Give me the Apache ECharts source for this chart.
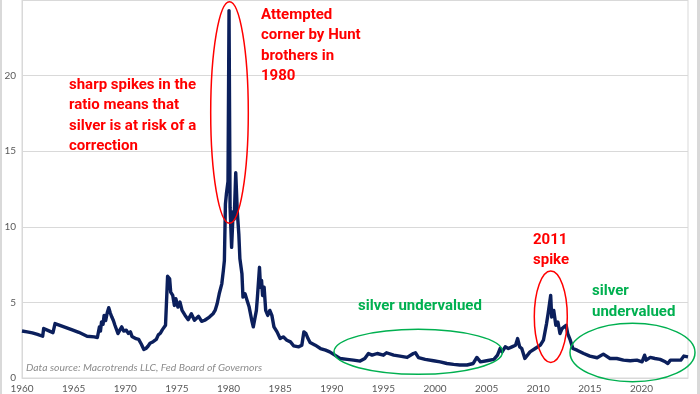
<!DOCTYPE html>
<html>
<head>
<meta charset="utf-8">
<script src="https://cdn.jsdelivr.net/npm/echarts@6/dist/echarts.min.js"></script>
<style>
html,body{margin:0;padding:0;background:#fff;}
#chart{width:700px;height:394px;}
</style>
</head>
<body>
<div id="chart"></div>
<script>
// Silver price ratio (year, value)
const years = [
1960.0,1960.5,1961.0,1961.5,1962.0,1962.1,1962.5,1963.0,1963.2,1963.6,1964.2,1964.8,1965.5,1966.3,1967.0,1967.3,
1967.5,1967.6,1967.7,1967.85,1967.95,1968.1,1968.25,1968.4,1968.55,1968.7,1968.85,1969.0,1969.15,1969.3,1969.5,1969.66,
1969.85,1970.1,1970.3,1970.5,1970.65,1970.8,1971.05,1971.3,1971.55,1971.8,1972.0,1972.2,1972.4,1972.7,1973.0,1973.2,
1973.4,1973.6,1973.9,1974.1,1974.3,1974.4,1974.6,1974.76,1974.9,1975.1,1975.3,1975.5,1975.8,1976.1,1976.4,1976.7,
1977.1,1977.4,1977.7,1978.15,1978.5,1978.7,1978.9,1979.1,1979.35,1979.5,1979.6,1979.7,1979.8,1979.95,1980.05,1980.15,
1980.3,1980.45,1980.55,1980.7,1980.85,1981.0,1981.1,1981.3,1981.4,1981.6,1981.8,1982.0,1982.25,1982.4,1982.7,1982.8,
1983.0,1983.1,1983.2,1983.3,1983.45,1983.6,1983.8,1984.0,1984.2,1984.4,1984.7,1985.0,1985.3,1985.65,1986.0,1986.3,
1986.8,1987.1,1987.3,1987.5,1987.7,1987.9,1988.4,1988.9,1989.4,1989.8,1990.3,1990.8,1991.5,1992.1,1992.75,1993.2,
1993.55,1993.9,1994.4,1995.0,1995.3,1996.0,1996.6,1997.3,1997.9,1998.1,1998.4,1999.05,1999.85,2000.5,2001.15,2001.8,
2002.4,2003.1,2003.7,2004.05,2004.4,2005.0,2005.7,2006.05,2006.3,2006.5,2006.8,2007.1,2007.45,2007.8,2008.0,2008.2,
2008.4,2008.7,2009.2,2009.7,2010.2,2010.5,2010.8,2010.95,2011.2,2011.3,2011.5,2011.7,2011.9,2012.1,2012.3,2012.5,
2012.7,2012.85,2013.1,2013.35,2013.75,2014.4,2015.0,2015.7,2016.3,2016.95,2017.6,2018.25,2018.9,2019.55,2020.05,2020.3,
2020.45,2020.85,2021.3,2021.8,2022.3,2022.55,2022.8,2023.3,2023.8,2024.1,2024.5
];
const ratio = [
3.11,3.05,2.98,2.88,2.76,3.27,3.15,3.00,3.60,3.50,3.35,3.20,3.02,2.76,2.72,2.68,
3.38,3.10,3.70,3.55,4.14,3.80,4.30,4.65,4.30,4.03,3.80,3.49,3.55,2.94,3.20,3.38,
3.10,3.16,2.95,3.05,2.75,2.83,2.60,2.55,2.25,1.89,1.95,2.10,2.30,2.40,2.55,2.85,
2.96,3.20,3.49,6.73,6.56,5.68,5.46,4.80,5.24,4.69,5.02,4.47,4.14,3.86,4.25,3.82,
4.08,3.75,3.82,4.03,4.25,4.47,4.91,5.57,6.23,7.10,7.76,11.5,12.2,13.0,24.3,11.3,
8.64,11.0,10.5,13.57,11.0,9.50,7.90,6.90,5.35,5.57,5.13,4.69,3.82,3.38,4.47,5.35,
7.32,6.00,6.45,5.46,6.00,4.47,4.14,4.47,4.14,3.38,3.05,2.61,2.72,2.50,2.39,2.13,
2.06,2.17,3.05,2.94,2.61,2.35,2.17,1.95,1.84,1.73,1.51,1.29,1.23,1.18,1.12,1.29,
1.62,1.51,1.62,1.51,1.67,1.51,1.45,1.36,1.62,1.67,1.35,1.23,1.14,1.07,0.96,0.90,
0.86,0.86,0.96,1.36,1.07,1.14,1.23,1.51,1.95,1.73,2.06,1.95,2.06,2.17,2.61,2.06,
1.95,1.29,1.73,1.95,2.17,2.50,3.60,4.25,5.46,4.03,4.47,3.49,3.70,2.94,3.27,3.38,
3.49,2.94,2.50,1.95,1.84,1.62,1.45,1.34,1.58,1.29,1.29,1.18,1.14,1.18,1.07,1.51,
1.18,1.36,1.29,1.23,1.07,0.96,1.18,1.18,1.18,1.45,1.40
];
const yTicks = [0, 5, 10, 15, 20];
const xTickStep = 5;

const seriesData = years.map((y, i) => [y, ratio[i]]);

const chart = echarts.init(document.getElementById('chart'), null, {renderer: 'canvas'});
const redFont = {fontFamily: 'Roboto', fontWeight: 'bold', fontSize: 15, lineHeight: 20.3, fill: '#ff0000'};
const greenFont = {fontFamily: 'Roboto', fontWeight: 'bold', fontSize: 15, lineHeight: 20.3, fill: '#00b050'};

chart.setOption({
  animation: false,
  backgroundColor: '#ffffff',
  grid: {left: 22, right: 12, top: -2, bottom: 16, show: true, borderColor: '#d9d9d9', borderWidth: 1, backgroundColor: 'transparent'},
  xAxis: {
    type: 'value', min: 1960, max: 2024.5, interval: xTickStep,
    axisLine: {show: true, lineStyle: {color: '#d9d9d9', width: 1}},
    axisTick: {show: false},
    splitLine: {show: false},
    axisLabel: {color: '#595959', fontSize: 10, fontFamily: 'Lato', margin: 6, showMaxLabel: false,
      formatter: v => String(Math.round(v))}
  },
  yAxis: {
    type: 'value', min: 0, max: 25, interval: 5,
    axisLine: {show: true, lineStyle: {color: '#d9d9d9', width: 1}},
    axisTick: {show: false},
    splitLine: {show: true, lineStyle: {color: '#d9d9d9', width: 1}},
    axisLabel: {color: '#595959', fontSize: 10, fontFamily: 'Lato', margin: 6, showMaxLabel: false,
      formatter: v => yTicks.indexOf(v) >= 0 ? String(v) : ''}
  },
  series: [{
    type: 'line', data: seriesData, showSymbol: false, symbol: 'none',
    lineStyle: {color: '#0b1f5c', width: 3.4, join: 'round'},
    clip: true, z: 2
  }],
  graphic: [
    {type: 'rect', z: 100, shape: {x: 0, y: 0, width: 2, height: 394}, style: {fill: '#d9d9d9'}, silent: true},
    {type: 'rect', z: 100, shape: {x: 697, y: 0, width: 3, height: 394}, style: {fill: '#d9d9d9'}, silent: true},
    {type: 'ellipse', z: 100, shape: {cx: 229.5, cy: 112.5, rx: 18.8, ry: 110.8}, style: {fill: 'none', stroke: '#ff0000', lineWidth: 1.5}, silent: true},
    {type: 'ellipse', z: 100, shape: {cx: 550.8, cy: 316.7, rx: 16.5, ry: 45.7}, style: {fill: 'none', stroke: '#ff0000', lineWidth: 1.5}, silent: true},
    {type: 'ellipse', z: 100, shape: {cx: 418.3, cy: 351.8, rx: 84.3, ry: 22.5}, style: {fill: 'none', stroke: '#00b050', lineWidth: 1.5}, silent: true},
    {type: 'ellipse', z: 100, shape: {cx: 632.5, cy: 352.5, rx: 62.5, ry: 29.2}, style: {fill: 'none', stroke: '#00b050', lineWidth: 1.5}, silent: true},
    {type: 'text', z: 100, left: 69, top: 75, style: Object.assign({text: 'sharp spikes in the\nratio means that\nsilver is at risk of a\ncorrection'}, redFont), silent: true},
    {type: 'text', z: 100, left: 261, top: 5, style: Object.assign({text: 'Attempted\ncorner by Hunt\nbrothers in\n1980'}, redFont), silent: true},
    {type: 'text', z: 100, left: 533, top: 230, style: Object.assign({text: '2011\nspike'}, redFont), silent: true},
    {type: 'text', z: 100, left: 358, top: 296.5, style: Object.assign({text: 'silver undervalued'}, greenFont), silent: true},
    {type: 'text', z: 100, left: 592, top: 281.5, style: Object.assign({text: 'silver\nundervalued'}, greenFont), silent: true},
    {type: 'text', z: 100, left: 26, top: 363, style: {text: 'Data source: Macrotrends LLC, Fed Board of Governors', fontFamily: 'Lato', fontStyle: 'italic', fontSize: 10.4, fill: '#8c8c8c'}, silent: true}
  ]
});
</script>
</body>
</html>
